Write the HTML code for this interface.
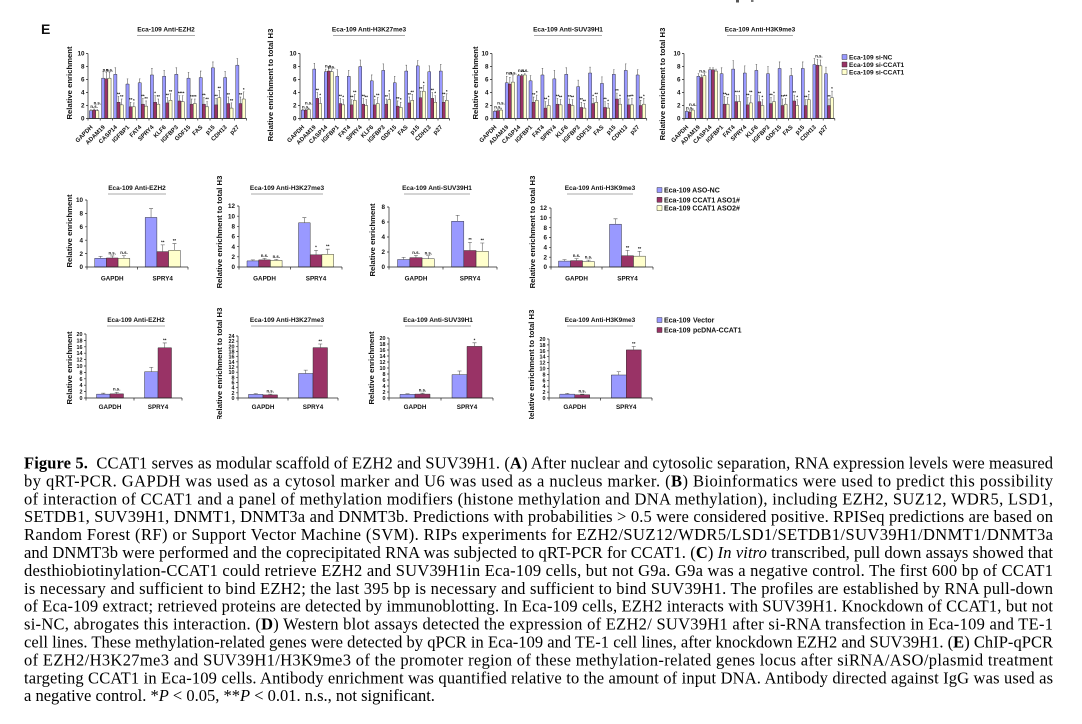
<!DOCTYPE html>
<html>
<head>
<meta charset="utf-8">
<style>
html,body{margin:0;padding:0;background:#fff;}
body{width:1082px;height:724px;overflow:hidden;}
svg{display:block;}
.bl{fill:#9999ff;}
.mr{fill:#993366;}
.yw{fill:#ffffcc;}
.bl,.mr,.yw{stroke:#2a2a2a;stroke-width:0.45;vector-effect:non-scaling-stroke;}
.er{fill:none;stroke:#555;stroke-width:0.55;vector-effect:non-scaling-stroke;}
.ax{fill:none;stroke:#222;stroke-width:0.7;vector-effect:non-scaling-stroke;}
.ul{stroke:#555;stroke-width:0.6;}
.t{font-family:"Liberation Sans",Arial,sans-serif;font-weight:bold;fill:#111;}
.tk{font-size:6.3px;text-anchor:end;}
.tks{font-size:5.4px;text-anchor:end;}
.gl{font-size:6px;text-anchor:end;}
.sg{font-size:4.3px;text-anchor:middle;}
.ti{font-size:6.5px;text-anchor:middle;}
.yt{font-size:7.7px;text-anchor:middle;}
.xl{font-size:6.3px;text-anchor:middle;}
.lg{font-size:6.5px;}
.lg2{font-size:7px;}
.cap{font-family:"Liberation Serif","Times New Roman",serif;font-size:16.5px;fill:#000;}
</style>
</head>
<body>
<svg width="1082" height="724" viewBox="0 0 1082 724" xmlns="http://www.w3.org/2000/svg">
<rect x="0" y="0" width="1082" height="724" fill="#fff"/>
<rect x="736" y="0" width="3" height="2.5" fill="#555"/>
<rect x="751" y="0" width="2.5" height="2" fill="#777"/>

<g class="t">
<text x="41" y="34" style="font-size:14px">E</text>

<!-- ================= TOP ROW ================= -->
<!-- C1 EZH2 -->
<text class="ti" x="166" y="31.5">Eca-109 Anti-EZH2</text>
<line class="ul" x1="137" y1="35.5" x2="195" y2="35.5"/>
<text class="yt" transform="translate(72,83) rotate(-90)">Relative enrichment</text>
<g transform="translate(88,118.5) scale(12.2,-6.5)">
<path class="bl" d="M.11 0h.26V1.2h-.26Z M1.11 0h.26V6.2h-.26Z M2.11 0h.26V6.8h-.26Z M3.11 0h.26V5.3h-.26Z M4.11 0h.26V5.5h-.26Z M5.11 0h.26V6.7h-.26Z M6.11 0h.26V6.5h-.26Z M7.11 0h.26V6.8h-.26Z M8.11 0h.26V6.2h-.26Z M9.11 0h.26V6.3h-.26Z M10.11 0h.26V7.8h-.26Z M11.11 0h.26V6.3h-.26Z M12.11 0h.26V8.2h-.26Z"/>
<path class="mr" d="M.37 0h.26V1.3h-.26Z M1.37 0h.26V6.1h-.26Z M2.37 0h.26V2.5h-.26Z M3.37 0h.26V1.8h-.26Z M4.37 0h.26V2.2h-.26Z M5.37 0h.26V2.5h-.26Z M6.37 0h.26V2.4h-.26Z M7.37 0h.26V2.7h-.26Z M8.37 0h.26V2.2h-.26Z M9.37 0h.26V2.2h-.26Z M10.37 0h.26V2.1h-.26Z M11.37 0h.26V2.3h-.26Z M12.37 0h.26V2.3h-.26Z"/>
<path class="yw" d="M.63 0h.26V1.2h-.26Z M1.63 0h.26V6.2h-.26Z M2.63 0h.26V2.1h-.26Z M3.63 0h.26V1.8h-.26Z M4.63 0h.26V1.9h-.26Z M5.63 0h.26V2.2h-.26Z M6.63 0h.26V2.8h-.26Z M7.63 0h.26V2.6h-.26Z M8.63 0h.26V2.3h-.26Z M9.63 0h.26V1.8h-.26Z M10.63 0h.26V3.2h-.26Z M11.63 0h.26V1.6h-.26Z M12.63 0h.26V3h-.26Z"/>
<path class="er" d="M.24 1.2V1.35m-.06 0h.12 M1.24 6.2V7.2m-.06 0h.12 M2.24 6.8V7.8m-.06 0h.12 M3.24 5.3V6.1m-.06 0h.12 M4.24 5.5V6.1m-.06 0h.12 M5.24 6.7V7.7m-.06 0h.12 M6.24 6.5V7.4m-.06 0h.12 M7.24 6.8V7.8m-.06 0h.12 M8.24 6.2V7.1m-.06 0h.12 M9.24 6.3V7.3m-.06 0h.12 M10.24 7.8V8.7m-.06 0h.12 M11.24 6.3V7.2m-.06 0h.12 M12.24 8.2V9.2m-.06 0h.12
M.5 1.3V1.45m-.06 0h.12 M1.5 6.1V7.1m-.06 0h.12 M2.5 2.5V3.4m-.06 0h.12 M3.5 1.8V2.5m-.06 0h.12 M4.5 2.2V3.1m-.06 0h.12 M5.5 2.5V3.5m-.06 0h.12 M6.5 2.4V3.2m-.06 0h.12 M7.5 2.7V3.5m-.06 0h.12 M8.5 2.2V3m-.06 0h.12 M9.5 2.2V3.2m-.06 0h.12 M10.5 2.1V3.1m-.06 0h.12 M11.5 2.3V3.3m-.06 0h.12 M12.5 2.3V3.3m-.06 0h.12
M.76 1.2V1.35m-.06 0h.12 M1.76 6.2V7.1m-.06 0h.12 M2.76 2.1V3m-.06 0h.12 M3.76 1.8V2.4m-.06 0h.12 M4.76 1.9V2.7m-.06 0h.12 M5.76 2.2V3m-.06 0h.12 M6.76 2.8V3.8m-.06 0h.12 M7.76 2.6V3.5m-.06 0h.12 M8.76 2.3V3m-.06 0h.12 M9.76 1.8V2.6m-.06 0h.12 M10.76 3.2V4.3m-.06 0h.12 M11.76 1.6V2.4m-.06 0h.12 M12.76 3V4.1m-.06 0h.12"/>
</g>
<g transform="translate(88,118.5) scale(12.2,1)"><path class="ax" d="M0 0H13M0 0v2M1 0v2M2 0v2M3 0v2M4 0v2M5 0v2M6 0v2M7 0v2M8 0v2M9 0v2M10 0v2M11 0v2M12 0v2M13 0v2"/></g>
<g transform="translate(88,118.5)">
<path class="ax" d="M0 0V-65M-2 0H0M-2 -13H0M-2 -26H0M-2 -39H0M-2 -52H0M-2 -65H0"/>
<text class="tk" x="-3.5" y="2.2">0</text><text class="tk" x="-3.5" y="-10.8">2</text><text class="tk" x="-3.5" y="-23.8">4</text><text class="tk" x="-3.5" y="-36.8">6</text><text class="tk" x="-3.5" y="-49.8">8</text><text class="tk" x="-3.5" y="-62.8">10</text>
<text class="sg" x="6.1" y="-10.4">n.s.</text><text class="sg" x="9.3" y="-14">n.s.</text>
<text class="sg" x="18.3" y="-47.2">n.s.</text><text class="sg" x="21.5" y="-47.2">n.s.</text>
<text class="sg" x="30.5" y="-23.1">**</text><text class="sg" x="33.7" y="-20.5">**</text>
<text class="sg" x="42.7" y="-17.3">**</text><text class="sg" x="45.9" y="-16.6">*</text>
<text class="sg" x="54.9" y="-21.2">**</text><text class="sg" x="58.1" y="-18.6">**</text>
<text class="sg" x="67.1" y="-23.8">*</text><text class="sg" x="70.3" y="-20.5">**</text>
<text class="sg" x="79.3" y="-21.8">**</text><text class="sg" x="82.5" y="-25.7">**</text>
<text class="sg" x="91.5" y="-23.8">**</text><text class="sg" x="94.7" y="-23.8">**</text>
<text class="sg" x="103.7" y="-20.5">**</text><text class="sg" x="106.9" y="-20.5">**</text>
<text class="sg" x="115.9" y="-21.8">**</text><text class="sg" x="119.1" y="-17.9">**</text>
<text class="sg" x="128.1" y="-21.2">**</text><text class="sg" x="131.3" y="-29">**</text>
<text class="sg" x="140.3" y="-22.5">**</text><text class="sg" x="143.5" y="-16.6">**</text>
<text class="sg" x="152.5" y="-22.5">**</text><text class="sg" x="155.7" y="-27.7">*</text>
</g>
<g class="gl" transform="translate(87,127.5)">
<text transform="translate(6.1,0) rotate(-45)">GAPDH</text><text transform="translate(18.3,0) rotate(-45)">ADAM19</text><text transform="translate(30.5,0) rotate(-45)">CASP14</text><text transform="translate(42.7,0) rotate(-45)">IGFBP1</text><text transform="translate(54.9,0) rotate(-45)">FAT4</text><text transform="translate(67.1,0) rotate(-45)">SPRY4</text><text transform="translate(79.3,0) rotate(-45)">KLF6</text><text transform="translate(91.5,0) rotate(-45)">IGFBP3</text><text transform="translate(103.7,0) rotate(-45)">GDF15</text><text transform="translate(115.9,0) rotate(-45)">FAS</text><text transform="translate(128.1,0) rotate(-45)">p15</text><text transform="translate(140.3,0) rotate(-45)">CDH13</text><text transform="translate(152.5,0) rotate(-45)">p27</text>
</g>

<!-- C2 H3K27me3 -->
<text class="ti" x="369" y="31.5">Eca-109 Anti-H3K27me3</text>
<line class="ul" x1="333" y1="35.5" x2="405" y2="35.5"/>
<text class="yt" transform="translate(273,85) rotate(-90)">Relative enrichment to total H3</text>
<g transform="translate(300,118.5) scale(11.5,-6.5)">
<path class="bl" d="M.11 0h.26V1.3h-.26Z M1.11 0h.26V7.6h-.26Z M2.11 0h.26V7.2h-.26Z M3.11 0h.26V6.5h-.26Z M4.11 0h.26V6.5h-.26Z M5.11 0h.26V8h-.26Z M6.11 0h.26V5.8h-.26Z M7.11 0h.26V7.4h-.26Z M8.11 0h.26V5.5h-.26Z M9.11 0h.26V7.3h-.26Z M10.11 0h.26V8.1h-.26Z M11.11 0h.26V7.2h-.26Z M12.11 0h.26V7.3h-.26Z"/>
<path class="mr" d="M.37 0h.26V1.3h-.26Z M1.37 0h.26V3.1h-.26Z M2.37 0h.26V7.3h-.26Z M3.37 0h.26V2.3h-.26Z M4.37 0h.26V2.1h-.26Z M5.37 0h.26V2.2h-.26Z M6.37 0h.26V2.1h-.26Z M7.37 0h.26V2.2h-.26Z M8.37 0h.26V1.9h-.26Z M9.37 0h.26V2.4h-.26Z M10.37 0h.26V3.2h-.26Z M11.37 0h.26V3.1h-.26Z M12.37 0h.26V2.5h-.26Z"/>
<path class="yw" d="M.63 0h.26V1.4h-.26Z M1.63 0h.26V2.3h-.26Z M2.63 0h.26V7.2h-.26Z M3.63 0h.26V2.1h-.26Z M4.63 0h.26V2.8h-.26Z M5.63 0h.26V2h-.26Z M6.63 0h.26V2.3h-.26Z M7.63 0h.26V2.9h-.26Z M8.63 0h.26V1.7h-.26Z M9.63 0h.26V2.8h-.26Z M10.63 0h.26V4.2h-.26Z M11.63 0h.26V2.5h-.26Z M12.63 0h.26V2.8h-.26Z"/>
<path class="er" d="M.24 1.3V1.4m-.06 0h.12 M1.24 7.6V8.5m-.06 0h.12 M2.24 7.2V7.6m-.06 0h.12 M3.24 6.5V7.5m-.06 0h.12 M4.24 6.5V7.4m-.06 0h.12 M5.24 8V9m-.06 0h.12 M6.24 5.8V6.7m-.06 0h.12 M7.24 7.4V8.4m-.06 0h.12 M8.24 5.5V6.5m-.06 0h.12 M9.24 7.3V8.2m-.06 0h.12 M10.24 8.1V8.9m-.06 0h.12 M11.24 7.2V8.1m-.06 0h.12 M12.24 7.3V8.3m-.06 0h.12
M.5 1.3V1.4m-.06 0h.12 M1.5 3.1V4m-.06 0h.12 M2.5 7.3V7.7m-.06 0h.12 M3.5 2.3V3.1m-.06 0h.12 M4.5 2.1V2.9m-.06 0h.12 M5.5 2.2V3.1m-.06 0h.12 M6.5 2.1V2.9m-.06 0h.12 M7.5 2.2V3m-.06 0h.12 M8.5 1.9V2.7m-.06 0h.12 M9.5 2.4V3.3m-.06 0h.12 M10.5 3.2V4.2m-.06 0h.12 M11.5 3.1V4m-.06 0h.12 M12.5 2.5V3.4m-.06 0h.12
M.76 1.4V1.5m-.06 0h.12 M1.76 2.3V3.2m-.06 0h.12 M2.76 7.2V7.5m-.06 0h.12 M3.76 2.1V2.9m-.06 0h.12 M4.76 2.8V3.7m-.06 0h.12 M5.76 2V2.9m-.06 0h.12 M6.76 2.3V3.2m-.06 0h.12 M7.76 2.9V3.8m-.06 0h.12 M8.76 1.7V2.5m-.06 0h.12 M9.76 2.8V3.7m-.06 0h.12 M10.76 4.2V5.1m-.06 0h.12 M11.76 2.5V3.5m-.06 0h.12 M12.76 2.8V3.8m-.06 0h.12"/>
</g>
<g transform="translate(300,118.5) scale(11.5,1)"><path class="ax" d="M0 0H13M0 0v2M1 0v2M2 0v2M3 0v2M4 0v2M5 0v2M6 0v2M7 0v2M8 0v2M9 0v2M10 0v2M11 0v2M12 0v2M13 0v2"/></g>
<g transform="translate(300,118.5)">
<path class="ax" d="M0 0V-65M-2 0H0M-2 -13H0M-2 -26H0M-2 -39H0M-2 -52H0M-2 -65H0"/>
<text class="tk" x="-3.5" y="2.2">0</text><text class="tk" x="-3.5" y="-10.8">2</text><text class="tk" x="-3.5" y="-23.8">4</text><text class="tk" x="-3.5" y="-36.8">6</text><text class="tk" x="-3.5" y="-49.8">8</text><text class="tk" x="-3.5" y="-62.8">10</text>
<text class="sg" x="5.75" y="-10.1">n.s.</text><text class="sg" x="8.7" y="-14">n.s.</text>
<text class="sg" x="17.25" y="-27">**</text><text class="sg" x="20.2" y="-21.8">*</text>
<text class="sg" x="28.75" y="-51">n.s.</text><text class="sg" x="31.7" y="-49.8">n.s.</text>
<text class="sg" x="40.25" y="-21.2">**</text><text class="sg" x="43.2" y="-19.9">*</text>
<text class="sg" x="51.75" y="-19.9">**</text><text class="sg" x="54.7" y="-25.1">**</text>
<text class="sg" x="63.25" y="-21.2">**</text><text class="sg" x="66.2" y="-19.9">**</text>
<text class="sg" x="74.75" y="-19.9">*</text><text class="sg" x="77.7" y="-21.8">**</text>
<text class="sg" x="86.25" y="-20.5">**</text><text class="sg" x="89.2" y="-25.7">*</text>
<text class="sg" x="97.75" y="-18.6">**</text><text class="sg" x="100.7" y="-17.3">*</text>
<text class="sg" x="109.25" y="-22.5">**</text><text class="sg" x="112.2" y="-25.1">**</text>
<text class="sg" x="120.75" y="-28.3">**</text><text class="sg" x="123.7" y="-34.2">*</text>
<text class="sg" x="132.25" y="-27">**</text><text class="sg" x="135.2" y="-23.8">*</text>
<text class="sg" x="143.75" y="-23.1">**</text><text class="sg" x="146.7" y="-25.7">*</text>
</g>
<g class="gl" transform="translate(299,127.5)">
<text transform="translate(5.75,0) rotate(-45)">GAPDH</text><text transform="translate(17.25,0) rotate(-45)">ADAM19</text><text transform="translate(28.75,0) rotate(-45)">CASP14</text><text transform="translate(40.25,0) rotate(-45)">IGFBP1</text><text transform="translate(51.75,0) rotate(-45)">FAT4</text><text transform="translate(63.25,0) rotate(-45)">SPRY4</text><text transform="translate(74.75,0) rotate(-45)">KLF6</text><text transform="translate(86.25,0) rotate(-45)">IGFBP3</text><text transform="translate(97.75,0) rotate(-45)">GDF15</text><text transform="translate(109.25,0) rotate(-45)">FAS</text><text transform="translate(120.75,0) rotate(-45)">p15</text><text transform="translate(132.25,0) rotate(-45)">CDH13</text><text transform="translate(143.75,0) rotate(-45)">p27</text>
</g>

<!-- C3 SUV39H1 -->
<text class="ti" x="568" y="31.5">Eca-109 Anti-SUV39H1</text>
<line class="ul" x1="534" y1="35.5" x2="602" y2="35.5"/>
<text class="yt" transform="translate(478,83) rotate(-90)">Relative enrichment</text>
<g transform="translate(492,118.5) scale(11.9,-6.5)">
<path class="bl" d="M.11 0h.26V1.1h-.26Z M1.11 0h.26V5.5h-.26Z M2.11 0h.26V6.6h-.26Z M3.11 0h.26V5.8h-.26Z M4.11 0h.26V6.7h-.26Z M5.11 0h.26V6.1h-.26Z M6.11 0h.26V6.8h-.26Z M7.11 0h.26V4.9h-.26Z M8.11 0h.26V7h-.26Z M9.11 0h.26V5.4h-.26Z M10.11 0h.26V6.8h-.26Z M11.11 0h.26V7.4h-.26Z M12.11 0h.26V6.7h-.26Z"/>
<path class="mr" d="M.37 0h.26V1.2h-.26Z M1.37 0h.26V5.3h-.26Z M2.37 0h.26V6.6h-.26Z M3.37 0h.26V2.5h-.26Z M4.37 0h.26V1.6h-.26Z M5.37 0h.26V2.2h-.26Z M6.37 0h.26V2.2h-.26Z M7.37 0h.26V1.7h-.26Z M8.37 0h.26V2.3h-.26Z M9.37 0h.26V1.7h-.26Z M10.37 0h.26V3h-.26Z M11.37 0h.26V2.1h-.26Z M12.37 0h.26V2h-.26Z"/>
<path class="yw" d="M.63 0h.26V1.3h-.26Z M1.63 0h.26V5.6h-.26Z M2.63 0h.26V6.7h-.26Z M3.63 0h.26V2.8h-.26Z M4.63 0h.26V2h-.26Z M5.63 0h.26V2.1h-.26Z M6.63 0h.26V2h-.26Z M7.63 0h.26V1.6h-.26Z M8.63 0h.26V2.5h-.26Z M9.63 0h.26V1.6h-.26Z M10.63 0h.26V2.2h-.26Z M11.63 0h.26V2.1h-.26Z M12.63 0h.26V2.2h-.26Z"/>
<path class="er" d="M.24 1.1V1.3m-.06 0h.12 M1.24 5.5V6.5m-.06 0h.12 M2.24 6.6V6.8m-.06 0h.12 M3.24 5.8V6.6m-.06 0h.12 M4.24 6.7V7.7m-.06 0h.12 M5.24 6.1V7.4m-.06 0h.12 M6.24 6.8V7.8m-.06 0h.12 M7.24 4.9V5.9m-.06 0h.12 M8.24 7V7.9m-.06 0h.12 M9.24 5.4V6.4m-.06 0h.12 M10.24 6.8V7.5m-.06 0h.12 M11.24 7.4V8.4m-.06 0h.12 M12.24 6.7V7.5m-.06 0h.12
M.5 1.2V1.4m-.06 0h.12 M1.5 5.3V6.3m-.06 0h.12 M2.5 6.6V6.8m-.06 0h.12 M3.5 2.5V3.3m-.06 0h.12 M4.5 1.6V2.6m-.06 0h.12 M5.5 2.2V3.1m-.06 0h.12 M6.5 2.2V3m-.06 0h.12 M7.5 1.7V2.5m-.06 0h.12 M8.5 2.3V3.1m-.06 0h.12 M9.5 1.7V2.6m-.06 0h.12 M10.5 3V3.9m-.06 0h.12 M11.5 2.1V3m-.06 0h.12 M12.5 2V2.8m-.06 0h.12
M.76 1.3V1.5m-.06 0h.12 M1.76 5.6V6.6m-.06 0h.12 M2.76 6.7V6.9m-.06 0h.12 M3.76 2.8V3.6m-.06 0h.12 M4.76 2V2.9m-.06 0h.12 M5.76 2.1V2.9m-.06 0h.12 M6.76 2V2.9m-.06 0h.12 M7.76 1.6V2.3m-.06 0h.12 M8.76 2.5V3.4m-.06 0h.12 M9.76 1.6V2.3m-.06 0h.12 M10.76 2.2V3.1m-.06 0h.12 M11.76 2.1V3.1m-.06 0h.12 M12.76 2.2V3.1m-.06 0h.12"/>
</g>
<g transform="translate(492,118.5) scale(11.9,1)"><path class="ax" d="M0 0H13M0 0v2M1 0v2M2 0v2M3 0v2M4 0v2M5 0v2M6 0v2M7 0v2M8 0v2M9 0v2M10 0v2M11 0v2M12 0v2M13 0v2"/></g>
<g transform="translate(492,118.5)">
<path class="ax" d="M0 0V-65M-2 0H0M-2 -13H0M-2 -26H0M-2 -39H0M-2 -52H0M-2 -65H0"/>
<text class="tk" x="-3.5" y="2.2">0</text><text class="tk" x="-3.5" y="-10.8">2</text><text class="tk" x="-3.5" y="-23.8">4</text><text class="tk" x="-3.5" y="-36.8">6</text><text class="tk" x="-3.5" y="-49.8">8</text><text class="tk" x="-3.5" y="-62.8">10</text>
<text class="sg" x="5.95" y="-10.1">n.s.</text><text class="sg" x="9" y="-14">n.s.</text>
<text class="sg" x="17.85" y="-44">n.s.</text><text class="sg" x="21" y="-44">n.s.</text>
<text class="sg" x="29.75" y="-46.5">n.s.</text><text class="sg" x="32.8" y="-46.5">n.s.</text>
<text class="sg" x="41.65" y="-22.5">**</text><text class="sg" x="44.7" y="-24.4">*</text>
<text class="sg" x="53.55" y="-17.9">**</text><text class="sg" x="56.6" y="-19.9">*</text>
<text class="sg" x="65.45" y="-21.2">**</text><text class="sg" x="68.5" y="-19.9">**</text>
<text class="sg" x="77.35" y="-20.5">**</text><text class="sg" x="80.4" y="-19.9">**</text>
<text class="sg" x="89.25" y="-17.3">**</text><text class="sg" x="92.3" y="-16">**</text>
<text class="sg" x="101.15" y="-21.2">*</text><text class="sg" x="104.2" y="-23.1">**</text>
<text class="sg" x="113.05" y="-17.9">**</text><text class="sg" x="116.1" y="-16">*</text>
<text class="sg" x="124.95" y="-26.4">**</text><text class="sg" x="128" y="-21.2">*</text>
<text class="sg" x="136.85" y="-20.5">**</text><text class="sg" x="139.9" y="-21.2">**</text>
<text class="sg" x="148.75" y="-19.2">**</text><text class="sg" x="151.8" y="-21.2">*</text>
</g>
<g class="gl" transform="translate(491,127.5)">
<text transform="translate(5.95,0) rotate(-45)">GAPDH</text><text transform="translate(17.85,0) rotate(-45)">ADAM19</text><text transform="translate(29.75,0) rotate(-45)">CASP14</text><text transform="translate(41.65,0) rotate(-45)">IGFBP1</text><text transform="translate(53.55,0) rotate(-45)">FAT4</text><text transform="translate(65.45,0) rotate(-45)">SPRY4</text><text transform="translate(77.35,0) rotate(-45)">KLF6</text><text transform="translate(89.25,0) rotate(-45)">IGFBP3</text><text transform="translate(101.15,0) rotate(-45)">GDF15</text><text transform="translate(113.05,0) rotate(-45)">FAS</text><text transform="translate(124.95,0) rotate(-45)">p15</text><text transform="translate(136.85,0) rotate(-45)">CDH13</text><text transform="translate(148.75,0) rotate(-45)">p27</text>
</g>

<!-- C4 H3K9me3 -->
<text class="ti" x="760" y="31.5">Eca-109 Anti-H3K9me3</text>
<line class="ul" x1="727" y1="35.5" x2="793" y2="35.5"/>
<text class="yt" transform="translate(665,84) rotate(-90)">Relative enrichment to total H3</text>
<g transform="translate(684,118.5) scale(11.6,-6.5)">
<path class="bl" d="M.11 0h.26V1.1h-.26Z M1.11 0h.26V6.5h-.26Z M2.11 0h.26V7.5h-.26Z M3.11 0h.26V6.9h-.26Z M4.11 0h.26V7.6h-.26Z M5.11 0h.26V7h-.26Z M6.11 0h.26V7.4h-.26Z M7.11 0h.26V6.9h-.26Z M8.11 0h.26V7.7h-.26Z M9.11 0h.26V6.6h-.26Z M10.11 0h.26V7.7h-.26Z M11.11 0h.26V8.3h-.26Z M12.11 0h.26V6.9h-.26Z"/>
<path class="mr" d="M.37 0h.26V1h-.26Z M1.37 0h.26V6.3h-.26Z M2.37 0h.26V7.5h-.26Z M3.37 0h.26V2.2h-.26Z M4.37 0h.26V2.6h-.26Z M5.37 0h.26V2.1h-.26Z M6.37 0h.26V2.6h-.26Z M7.37 0h.26V2.3h-.26Z M8.37 0h.26V2h-.26Z M9.37 0h.26V2.7h-.26Z M10.37 0h.26V2h-.26Z M11.37 0h.26V8.2h-.26Z M12.37 0h.26V2h-.26Z"/>
<path class="yw" d="M.63 0h.26V1.3h-.26Z M1.63 0h.26V6.6h-.26Z M2.63 0h.26V7.3h-.26Z M3.63 0h.26V2.2h-.26Z M4.63 0h.26V2.6h-.26Z M5.63 0h.26V2.4h-.26Z M6.63 0h.26V2h-.26Z M7.63 0h.26V2.6h-.26Z M8.63 0h.26V2.2h-.26Z M9.63 0h.26V2h-.26Z M10.63 0h.26V2.9h-.26Z M11.63 0h.26V8.1h-.26Z M12.63 0h.26V3.2h-.26Z"/>
<path class="er" d="M.24 1.1V1.3m-.06 0h.12 M1.24 6.5V6.9m-.06 0h.12 M2.24 7.5V7.8m-.06 0h.12 M3.24 6.9V7.8m-.06 0h.12 M4.24 7.6V8.9m-.06 0h.12 M5.24 7V8.1m-.06 0h.12 M6.24 7.4V8.3m-.06 0h.12 M7.24 6.9V8m-.06 0h.12 M8.24 7.7V8.7m-.06 0h.12 M9.24 6.6V7.7m-.06 0h.12 M10.24 7.7V8.7m-.06 0h.12 M11.24 8.3V9.2m-.06 0h.12 M12.24 6.9V7.9m-.06 0h.12
M.5 1V1.2m-.06 0h.12 M1.5 6.3V6.7m-.06 0h.12 M2.5 7.5V7.8m-.06 0h.12 M3.5 2.2V3.4m-.06 0h.12 M4.5 2.6V3.5m-.06 0h.12 M5.5 2.1V3.2m-.06 0h.12 M6.5 2.6V3.5m-.06 0h.12 M7.5 2.3V3.2m-.06 0h.12 M8.5 2V3m-.06 0h.12 M9.5 2.7V3.6m-.06 0h.12 M10.5 2V2.9m-.06 0h.12 M11.5 8.2V9.1m-.06 0h.12 M12.5 2V3m-.06 0h.12
M.76 1.3V1.5m-.06 0h.12 M1.76 6.6V6.9m-.06 0h.12 M2.76 7.3V7.6m-.06 0h.12 M3.76 2.2V3.2m-.06 0h.12 M4.76 2.6V3.5m-.06 0h.12 M5.76 2.4V3.5m-.06 0h.12 M6.76 2V2.9m-.06 0h.12 M7.76 2.6V3.5m-.06 0h.12 M8.76 2.2V3.1m-.06 0h.12 M9.76 2V2.9m-.06 0h.12 M10.76 2.9V3.7m-.06 0h.12 M11.76 8.1V9m-.06 0h.12 M12.76 3.2V4.2m-.06 0h.12"/>
</g>
<g transform="translate(684,118.5) scale(11.6,1)"><path class="ax" d="M0 0H13M0 0v2M1 0v2M2 0v2M3 0v2M4 0v2M5 0v2M6 0v2M7 0v2M8 0v2M9 0v2M10 0v2M11 0v2M12 0v2M13 0v2"/></g>
<g transform="translate(684,118.5)">
<path class="ax" d="M0 0V-65M-2 0H0M-2 -13H0M-2 -26H0M-2 -39H0M-2 -52H0M-2 -65H0"/>
<text class="tk" x="-3.5" y="2.2">0</text><text class="tk" x="-3.5" y="-10.8">2</text><text class="tk" x="-3.5" y="-23.8">4</text><text class="tk" x="-3.5" y="-36.8">6</text><text class="tk" x="-3.5" y="-49.8">8</text><text class="tk" x="-3.5" y="-62.8">10</text>
<text class="sg" x="5.8" y="-8.8">n.s.</text><text class="sg" x="8.8" y="-12.5">n.s.</text>
<text class="sg" x="18.9" y="-46">n.s.</text>
<text class="sg" x="40.6" y="-23.1">**</text><text class="sg" x="43.6" y="-21.8">**</text>
<text class="sg" x="52.2" y="-24.8">**</text><text class="sg" x="55.2" y="-24.8">*</text>
<text class="sg" x="63.8" y="-21.8">**</text><text class="sg" x="66.8" y="-24.8">**</text>
<text class="sg" x="75.4" y="-23.8">**</text><text class="sg" x="78.4" y="-19.9">*</text>
<text class="sg" x="87" y="-21.8">**</text><text class="sg" x="90" y="-23.8">*</text>
<text class="sg" x="98.6" y="-20.5">**</text><text class="sg" x="101.6" y="-21.2">**</text>
<text class="sg" x="110.2" y="-24.4">**</text><text class="sg" x="113.2" y="-19.9">*</text>
<text class="sg" x="121.8" y="-19.9">**</text><text class="sg" x="124.8" y="-25.1">*</text>
<text class="sg" x="134.9" y="-60.8">n.s.</text>
<text class="sg" x="145" y="-20.5">**</text><text class="sg" x="148" y="-28.3">*</text>
</g>
<g class="gl" transform="translate(683,127.5)">
<text transform="translate(5.8,0) rotate(-45)">GAPDH</text><text transform="translate(17.4,0) rotate(-45)">ADAM19</text><text transform="translate(29,0) rotate(-45)">CASP14</text><text transform="translate(40.6,0) rotate(-45)">IGFBP1</text><text transform="translate(52.2,0) rotate(-45)">FAT4</text><text transform="translate(63.8,0) rotate(-45)">SPRY4</text><text transform="translate(75.4,0) rotate(-45)">KLF6</text><text transform="translate(87,0) rotate(-45)">IGFBP3</text><text transform="translate(98.6,0) rotate(-45)">GDF15</text><text transform="translate(110.2,0) rotate(-45)">FAS</text><text transform="translate(121.8,0) rotate(-45)">p15</text><text transform="translate(133.4,0) rotate(-45)">CDH13</text><text transform="translate(145,0) rotate(-45)">p27</text>
</g>

<!-- top legend -->
<rect class="bl" x="842" y="54.5" width="5" height="5"/>
<rect class="mr" x="842" y="62" width="5" height="5"/>
<rect class="yw" x="842" y="69.5" width="5" height="5"/>
<text class="lg" x="849" y="59.4">Eca-109 si-NC</text>
<text class="lg" x="849" y="66.9">Eca-109 si-CCAT1</text>
<text class="lg" x="849" y="74.4">Eca-109 si-CCAT1</text>

<!-- ================= MIDDLE ROW ================= -->
<!-- M1 -->
<text class="ti" x="137" y="190">Eca-109 Anti-EZH2</text>
<line class="ul" x1="108" y1="194" x2="166" y2="194"/>
<text class="yt" transform="translate(72,231) rotate(-90)">Relative enrichment</text>
<g transform="translate(87,267) scale(1,-6.7)">
<path class="bl" d="M7.7 0h11.7V1.3H7.7Z M58.2 0h11.7V7.4H58.2Z"/>
<path class="mr" d="M19.4 0h11.7V1.35H19.4Z M69.9 0h11.7V2.3H69.9Z"/>
<path class="yw" d="M31.1 0h11.7V1.3H31.1Z M81.6 0h11.7V2.5H81.6Z"/>
<path class="er" d="M13.55 1.3V1.6m-2 0h4 M64.05 7.4V8.7m-2 0h4 M25.25 1.35V1.65m-2 0h4 M75.75 2.3V3.3m-2 0h4 M36.95 1.3V1.7m-2 0h4 M87.45 2.5V3.5m-2 0h4"/>
</g>
<g transform="translate(87,267)">
<path class="ax" d="M0 0V-67M-2 0H0M-2 -13.4H0M-2 -26.8H0M-2 -40.2H0M-2 -53.6H0M-2 -67H0 M0 0H101M0 0v2.5M50.5 0v2.5M101 0v2.5"/>
<text class="tk" x="-4" y="2.2">0</text><text class="tk" x="-4" y="-11.2">2</text><text class="tk" x="-4" y="-24.6">4</text><text class="tk" x="-4" y="-38">6</text><text class="tk" x="-4" y="-51.4">8</text><text class="tk" x="-4" y="-64.8">10</text>
</g>
<text class="sg" x="112.2" y="254.5">n.s.</text><text class="sg" x="124" y="254.1">n.s.</text><text class="sg" x="162.7" y="243.4">**</text><text class="sg" x="174.4" y="242">**</text>
<text class="xl" x="112.2" y="280.5">GAPDH</text><text class="xl" x="162.7" y="280.5">SPRY4</text>

<!-- M2 -->
<text class="ti" x="287" y="190">Eca-109 Anti-H3K27me3</text>
<line class="ul" x1="251" y1="194" x2="323" y2="194"/>
<text class="yt" transform="translate(222,232) rotate(-90)">Relative enrichment to total H3</text>
<g transform="translate(239,267) scale(1,-5.083)">
<path class="bl" d="M8 0h11.7V1.2H8Z M59.5 0h11.7V8.7H59.5Z"/>
<path class="mr" d="M19.7 0h11.7V1.4H19.7Z M71.2 0h11.7V2.4H71.2Z"/>
<path class="yw" d="M31.4 0h11.7V1.3H31.4Z M82.9 0h11.7V2.5H82.9Z"/>
<path class="er" d="M13.85 1.2V1.4m-2 0h4 M65.35 8.7V9.7m-2 0h4 M25.55 1.4V1.7m-2 0h4 M77.05 2.4V3.3m-2 0h4 M37.25 1.3V1.5m-2 0h4 M88.75 2.5V3.5m-2 0h4"/>
</g>
<g transform="translate(239,267)">
<path class="ax" d="M0 0V-61M-2 0H0M-2 -10.17H0M-2 -20.33H0M-2 -30.5H0M-2 -40.67H0M-2 -50.83H0M-2 -61H0 M0 0H103M0 0v2.5M51.5 0v2.5M103 0v2.5"/>
<text class="tk" x="-4" y="2.2">0</text><text class="tk" x="-4" y="-7.97">2</text><text class="tk" x="-4" y="-18.13">4</text><text class="tk" x="-4" y="-28.3">6</text><text class="tk" x="-4" y="-38.47">8</text><text class="tk" x="-4" y="-48.63">10</text><text class="tk" x="-4" y="-58.8">12</text>
</g>
<text class="sg" x="264.5" y="256.9">n.s.</text><text class="sg" x="276.3" y="257.9">n.s.</text><text class="sg" x="316" y="248.7">*</text><text class="sg" x="327.7" y="247.7">**</text>
<text class="xl" x="264.5" y="280.5">GAPDH</text><text class="xl" x="316" y="280.5">SPRY4</text>

<!-- M3 -->
<text class="ti" x="437" y="190">Eca-109 Anti-SUV39H1</text>
<line class="ul" x1="404" y1="194" x2="470" y2="194"/>
<text class="yt" transform="translate(375,240) rotate(-90)">Relative enrichment</text>
<g transform="translate(389,267) scale(1,-7.5)">
<path class="bl" d="M8.5 0h12.3V1H8.5Z M62.5 0h12.3V6.1H62.5Z"/>
<path class="mr" d="M20.8 0h12.3V1.25H20.8Z M74.8 0h12.3V2.2H74.8Z"/>
<path class="yw" d="M33.1 0h12.3V1.1H33.1Z M87.1 0h12.3V2.1H87.1Z"/>
<path class="er" d="M14.65 1V1.3m-2 0h4 M68.65 6.1V6.9m-2 0h4 M26.95 1.25V1.55m-2 0h4 M80.95 2.2V3.3m-2 0h4 M39.25 1.1V1.5m-2 0h4 M93.25 2.1V3.2m-2 0h4"/>
</g>
<g transform="translate(389,267)">
<path class="ax" d="M0 0V-60M-2 0H0M-2 -15H0M-2 -30H0M-2 -45H0M-2 -60H0 M0 0H108M0 0v2.5M54 0v2.5M108 0v2.5"/>
<text class="tk" x="-4" y="2.2">0</text><text class="tk" x="-4" y="-12.8">2</text><text class="tk" x="-4" y="-27.8">4</text><text class="tk" x="-4" y="-42.8">6</text><text class="tk" x="-4" y="-57.8">8</text>
</g>
<text class="sg" x="416" y="253.9">n.s.</text><text class="sg" x="428.3" y="254.3">n.s.</text><text class="sg" x="470" y="240.8">**</text><text class="sg" x="482.3" y="241.5">**</text>
<text class="xl" x="416" y="280.5">GAPDH</text><text class="xl" x="470" y="280.5">SPRY4</text>

<!-- M4 -->
<text class="ti" x="600" y="190">Eca-109 Anti-H3K9me3</text>
<line class="ul" x1="567" y1="194" x2="633" y2="194"/>
<text class="yt" transform="translate(535,232) rotate(-90)">Relative enrichment to total H3</text>
<g transform="translate(551,267) scale(1,-4.917)">
<path class="bl" d="M7.5 0h12V1.2H7.5Z M58.5 0h12V8.7H58.5Z"/>
<path class="mr" d="M19.5 0h12V1.3H19.5Z M70.5 0h12V2.3H70.5Z"/>
<path class="yw" d="M31.5 0h12V1.1H31.5Z M82.5 0h12V2.2H82.5Z"/>
<path class="er" d="M13.5 1.2V1.5m-2 0h4 M64.5 8.7V9.8m-2 0h4 M25.5 1.3V1.7m-2 0h4 M76.5 2.3V3.4m-2 0h4 M37.5 1.1V1.4m-2 0h4 M88.5 2.2V3.2m-2 0h4"/>
</g>
<g transform="translate(551,267)">
<path class="ax" d="M0 0V-59M-2 0H0M-2 -9.83H0M-2 -19.67H0M-2 -29.5H0M-2 -39.33H0M-2 -49.17H0M-2 -59H0 M0 0H102M0 0v2.5M51 0v2.5M102 0v2.5"/>
<text class="tk" x="-4" y="2.2">0</text><text class="tk" x="-4" y="-7.63">2</text><text class="tk" x="-4" y="-17.47">4</text><text class="tk" x="-4" y="-27.3">6</text><text class="tk" x="-4" y="-37.13">8</text><text class="tk" x="-4" y="-46.97">10</text><text class="tk" x="-4" y="-56.8">12</text>
</g>
<text class="sg" x="576.5" y="257.1">n.s.</text><text class="sg" x="588.5" y="258.6">n.s.</text><text class="sg" x="627.5" y="248.8">**</text><text class="sg" x="639.5" y="249.8">**</text>
<text class="xl" x="576.5" y="280.5">GAPDH</text><text class="xl" x="627.5" y="280.5">SPRY4</text>

<!-- middle legend -->
<rect class="bl" x="657" y="187.5" width="5" height="5"/>
<rect class="mr" x="657" y="197.3" width="5" height="5"/>
<rect class="yw" x="657" y="205.6" width="5" height="5"/>
<text class="lg2" x="664" y="192.5">Eca-109 ASO-NC</text>
<text class="lg2" x="664" y="202.3">Eca-109 CCAT1 ASO1#</text>
<text class="lg2" x="664" y="210.6">Eca-109 CCAT1 ASO2#</text>

<!-- ================= BOTTOM ROW ================= -->
<!-- B1 -->
<text class="ti" x="136" y="322">Eca-109 Anti-EZH2</text>
<line class="ul" x1="107" y1="326" x2="165" y2="326"/>
<text class="yt" transform="translate(72,368) rotate(-90)">Relative enrichment</text>
<g transform="translate(86,398) scale(1,-3.2)">
<path class="bl" d="M10.5 0h13.5V1.2H10.5Z M58.5 0h13.5V8.2H58.5Z"/>
<path class="mr" d="M24 0h13.5V1.3H24Z M72 0h13.5V15.7H72Z"/>
<path class="er" d="M17.25 1.2V1.5m-2 0h4 M65.25 8.2V9.6m-2 0h4 M30.75 1.3V1.8m-2 0h4 M78.75 15.7V17.2m-2 0h4"/>
</g>
<g transform="translate(86,398)">
<path class="ax" d="M0 0V-64M-2 0H0M-2 -6.4H0M-2 -12.8H0M-2 -19.2H0M-2 -25.6H0M-2 -32H0M-2 -38.4H0M-2 -44.8H0M-2 -51.2H0M-2 -57.6H0M-2 -64H0 M0 0H96M0 0v2.5M48 0v2.5M96 0v2.5"/>
<text class="tks" x="-3.5" y="2">0</text><text class="tks" x="-3.5" y="-4.4">2</text><text class="tks" x="-3.5" y="-10.8">4</text><text class="tks" x="-3.5" y="-17.2">6</text><text class="tks" x="-3.5" y="-23.6">8</text><text class="tks" x="-3.5" y="-30">10</text><text class="tks" x="-3.5" y="-36.4">12</text><text class="tks" x="-3.5" y="-42.8">14</text><text class="tks" x="-3.5" y="-49.2">16</text><text class="tks" x="-3.5" y="-55.6">18</text><text class="tks" x="-3.5" y="-62">20</text>
</g>
<text class="sg" x="116.7" y="390.7">n.s.</text><text class="sg" x="164.7" y="341.5">**</text>
<text class="xl" x="110" y="409">GAPDH</text><text class="xl" x="158" y="409">SPRY4</text>

<!-- B2 -->
<text class="ti" x="287" y="322">Eca-109 Anti-H3K27me3</text>
<line class="ul" x1="251" y1="326" x2="323" y2="326"/>
<text class="yt" transform="translate(222,364) rotate(-90)">Relative enrichment to total H3</text>
<g transform="translate(238,398) scale(1,-2.583)">
<path class="bl" d="M10.5 0h14.5V1.4H10.5Z M60.5 0h14.5V9.5H60.5Z"/>
<path class="mr" d="M25 0h14.5V1.2H25Z M75 0h14.5V19.5H75Z"/>
<path class="er" d="M17.75 1.4V1.7m-2 0h4 M67.75 9.5V10.8m-2 0h4 M32.25 1.2V1.5m-2 0h4 M82.25 19.5V20.9m-2 0h4"/>
</g>
<g transform="translate(238,398)">
<path class="ax" d="M0 0V-62M-2 0H0M-2 -5.17H0M-2 -10.33H0M-2 -15.5H0M-2 -20.67H0M-2 -25.83H0M-2 -31H0M-2 -36.17H0M-2 -41.33H0M-2 -46.5H0M-2 -51.67H0M-2 -56.83H0M-2 -62H0 M0 0H100M0 0v2.5M50 0v2.5M100 0v2.5"/>
<text class="tks" x="-3.5" y="2">0</text><text class="tks" x="-3.5" y="-3.17">2</text><text class="tks" x="-3.5" y="-8.33">4</text><text class="tks" x="-3.5" y="-13.5">6</text><text class="tks" x="-3.5" y="-18.67">8</text><text class="tks" x="-3.5" y="-23.83">10</text><text class="tks" x="-3.5" y="-29">12</text><text class="tks" x="-3.5" y="-34.17">14</text><text class="tks" x="-3.5" y="-39.33">16</text><text class="tks" x="-3.5" y="-44.5">18</text><text class="tks" x="-3.5" y="-49.67">20</text><text class="tks" x="-3.5" y="-54.83">22</text><text class="tks" x="-3.5" y="-60">24</text>
</g>
<text class="sg" x="270.2" y="392.6">n.s.</text><text class="sg" x="320.2" y="342.5">**</text>
<text class="xl" x="263" y="409">GAPDH</text><text class="xl" x="313" y="409">SPRY4</text>

<!-- B3 -->
<text class="ti" x="438" y="322">Eca-109 Anti-SUV39H1</text>
<line class="ul" x1="405" y1="326" x2="471" y2="326"/>
<text class="yt" transform="translate(374,368) rotate(-90)">Relative enrichment</text>
<g transform="translate(389,398) scale(1,-3)">
<path class="bl" d="M11 0h15V1.2H11Z M63 0h15V7.8H63Z"/>
<path class="mr" d="M26 0h15V1.3H26Z M78 0h15V17.2H78Z"/>
<path class="er" d="M18.5 1.2V1.4m-2 0h4 M70.5 7.8V9m-2 0h4 M33.5 1.3V1.6m-2 0h4 M85.5 17.2V18.4m-2 0h4"/>
</g>
<g transform="translate(389,398)">
<path class="ax" d="M0 0V-60M-2 0H0M-2 -6H0M-2 -12H0M-2 -18H0M-2 -24H0M-2 -30H0M-2 -36H0M-2 -42H0M-2 -48H0M-2 -54H0M-2 -60H0 M0 0H104M0 0v2.5M52 0v2.5M104 0v2.5"/>
<text class="tks" x="-3.5" y="2">0</text><text class="tks" x="-3.5" y="-4">2</text><text class="tks" x="-3.5" y="-10">4</text><text class="tks" x="-3.5" y="-16">6</text><text class="tks" x="-3.5" y="-22">8</text><text class="tks" x="-3.5" y="-28">10</text><text class="tks" x="-3.5" y="-34">12</text><text class="tks" x="-3.5" y="-40">14</text><text class="tks" x="-3.5" y="-46">16</text><text class="tks" x="-3.5" y="-52">18</text><text class="tks" x="-3.5" y="-58">20</text>
</g>
<text class="sg" x="422.5" y="391.7">n.s.</text><text class="sg" x="474.5" y="341.3">*</text>
<text class="xl" x="415" y="409">GAPDH</text><text class="xl" x="467" y="409">SPRY4</text>

<!-- B4 -->
<text class="ti" x="600" y="322">Eca-109 Anti-H3K9me3</text>
<line class="ul" x1="567" y1="326" x2="633" y2="326"/>
<text class="yt" transform="translate(534,366) rotate(-90)">Relative enrichment to total H3</text>
<g transform="translate(549,398) scale(1,-2.95)">
<path class="bl" d="M10.75 0h15V1.3H10.75Z M62.25 0h15V7.8H62.25Z"/>
<path class="mr" d="M25.75 0h15V1.1H25.75Z M77.25 0h15V16.3H77.25Z"/>
<path class="er" d="M18.25 1.3V1.6m-2 0h4 M69.75 7.8V8.9m-2 0h4 M33.25 1.1V1.3m-2 0h4 M84.75 16.3V17.5m-2 0h4"/>
</g>
<g transform="translate(549,398)">
<path class="ax" d="M0 0V-59M-2 0H0M-2 -5.9H0M-2 -11.8H0M-2 -17.7H0M-2 -23.6H0M-2 -29.5H0M-2 -35.4H0M-2 -41.3H0M-2 -47.2H0M-2 -53.1H0M-2 -59H0 M0 0H103M0 0v2.5M51.5 0v2.5M103 0v2.5"/>
<text class="tks" x="-3.5" y="2">0</text><text class="tks" x="-3.5" y="-3.9">2</text><text class="tks" x="-3.5" y="-9.8">4</text><text class="tks" x="-3.5" y="-15.7">6</text><text class="tks" x="-3.5" y="-21.6">8</text><text class="tks" x="-3.5" y="-27.5">10</text><text class="tks" x="-3.5" y="-33.4">12</text><text class="tks" x="-3.5" y="-39.3">14</text><text class="tks" x="-3.5" y="-45.2">16</text><text class="tks" x="-3.5" y="-51.1">18</text><text class="tks" x="-3.5" y="-57">20</text>
</g>
<text class="sg" x="582.2" y="392.7">n.s.</text><text class="sg" x="633.7" y="344.9">**</text>
<text class="xl" x="574.7" y="409">GAPDH</text><text class="xl" x="626.2" y="409">SPRY4</text>

<!-- bottom legend -->
<rect class="bl" x="657" y="317.5" width="5" height="5"/>
<rect class="mr" x="657" y="327.5" width="5" height="5"/>
<text class="lg2" x="664" y="322.5">Eca-109</text><text class="lg2" x="693" y="322.5">Vector</text>
<text class="lg2" x="664" y="332.5">Eca-109</text><text class="lg2" x="693" y="332.5">pcDNA-CCAT1</text>
</g>

<!-- crop edge of figure -->
<rect x="0" y="419" width="1082" height="30" fill="#fff"/>

<!-- ================= CAPTION ================= -->
<g class="cap">
<text x="24" y="468.5" textLength="1029" lengthAdjust="spacing"><tspan font-weight="bold">Figure 5.</tspan>&#160;&#160;CCAT1 serves as modular scaffold of EZH2 and SUV39H1. (<tspan font-weight="bold">A</tspan>) After nuclear and cytosolic separation, RNA expression levels were measured</text>
<text x="24" y="486.4" textLength="1029" lengthAdjust="spacing">by qRT-PCR. GAPDH was used as a cytosol marker and U6 was used as a nucleus marker. (<tspan font-weight="bold">B</tspan>) Bioinformatics were used to predict this possibility</text>
<text x="24" y="504.3" textLength="1029" lengthAdjust="spacing">of interaction of CCAT1 and a panel of methylation modifiers (histone methylation and DNA methylation), including EZH2, SUZ12, WDR5, LSD1,</text>
<text x="24" y="522.2" textLength="1029" lengthAdjust="spacing">SETDB1, SUV39H1, DNMT1, DNMT3a and DNMT3b. Predictions with probabilities &gt; 0.5 were considered positive. RPISeq predictions are based on</text>
<text x="24" y="540.1" textLength="1029" lengthAdjust="spacing">Random Forest (RF) or Support Vector Machine (SVM). RIPs experiments for EZH2/SUZ12/WDR5/LSD1/SETDB1/SUV39H1/DNMT1/DNMT3a</text>
<text x="24" y="558" textLength="1029" lengthAdjust="spacing">and DNMT3b were performed and the coprecipitated RNA was subjected to qRT-PCR for CCAT1. (<tspan font-weight="bold">C</tspan>) <tspan font-style="italic">In vitro</tspan> transcribed, pull down assays showed that</text>
<text x="24" y="575.9" textLength="1029" lengthAdjust="spacing">desthiobiotinylation-CCAT1 could retrieve EZH2 and SUV39H1in Eca-109 cells, but not G9a. G9a was a negative control. The first 600 bp of CCAT1</text>
<text x="24" y="593.8" textLength="1029" lengthAdjust="spacing">is necessary and sufficient to bind EZH2; the last 395 bp is necessary and sufficient to bind SUV39H1. The profiles are established by RNA pull-down</text>
<text x="24" y="611.7" textLength="1029" lengthAdjust="spacing">of Eca-109 extract; retrieved proteins are detected by immunoblotting. In Eca-109 cells, EZH2 interacts with SUV39H1. Knockdown of CCAT1, but not</text>
<text x="24" y="629.6" textLength="1029" lengthAdjust="spacing">si-NC, abrogates this interaction. (<tspan font-weight="bold">D</tspan>) Western blot assays detected the expression of EZH2/ SUV39H1 after si-RNA transfection in Eca-109 and TE-1</text>
<text x="24" y="647.5" textLength="1029" lengthAdjust="spacing">cell lines. These methylation-related genes were detected by qPCR in Eca-109 and TE-1 cell lines, after knockdown EZH2 and SUV39H1. (<tspan font-weight="bold">E</tspan>) ChIP-qPCR</text>
<text x="24" y="665.4" textLength="1029" lengthAdjust="spacing">of EZH2/H3K27me3 and SUV39H1/H3K9me3 of the promoter region of these methylation-related genes locus after siRNA/ASO/plasmid treatment</text>
<text x="24" y="683.3" textLength="1029" lengthAdjust="spacing">targeting CCAT1 in Eca-109 cells. Antibody enrichment was quantified relative to the amount of input DNA. Antibody directed against IgG was used as</text>
<text x="24" y="701.2">a negative control. *<tspan font-style="italic">P</tspan> &lt; 0.05, **<tspan font-style="italic">P</tspan> &lt; 0.01. n.s., not significant.</text>
</g>
</svg>
</body>
</html>
